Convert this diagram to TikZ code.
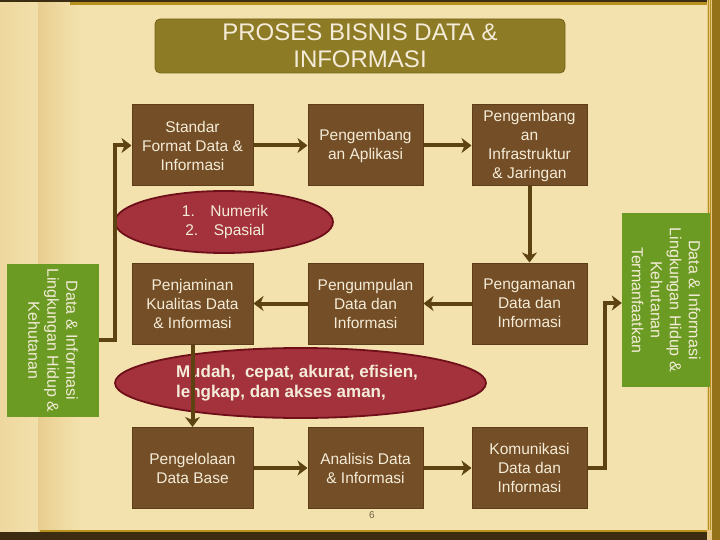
\documentclass[tikz,border=0pt]{standalone}
\usepackage{fontspec}
\setmainfont{Liberation Sans}
\usetikzlibrary{arrows.meta,shapes.geometric}
\definecolor{parch}{HTML}{F3E2AE}
\definecolor{parchdark}{HTML}{E6C888}
\definecolor{boxfill}{HTML}{744E26}
\definecolor{boxedge}{HTML}{5E3E1A}
\definecolor{boxtext}{HTML}{F4ECD8}
\definecolor{arrowc}{HTML}{5E4312}
\definecolor{titlefill}{HTML}{8E7B26}
\definecolor{titleedge}{HTML}{76651C}
\definecolor{grass}{HTML}{6B9B22}
\definecolor{ellfill}{HTML}{A3323D}
\definecolor{elledge}{HTML}{6E0F1A}
\definecolor{frame}{HTML}{3C2C12}
\definecolor{goldline}{HTML}{B8901C}
\begin{document}
\begin{tikzpicture}[x=1pt,y=-1pt,
  procbox/.style={draw=boxedge, line width=1pt, fill=boxfill, text=boxtext,
    minimum width=115pt, minimum height=81pt, inner sep=1pt, align=center,
    font=\fontsize{15.5}{19}\selectfont},
  greenbar/.style={fill=grass, inner sep=0pt},
  bartext/.style={text=boxtext, align=center, rotate=-90, font=\fontsize{16}{19}\selectfont},
  oval/.style={ellipse, draw=elledge, line width=1.8pt, fill=ellfill, inner sep=0pt},
  conn/.style={draw=arrowc, line width=4pt, -{Stealth[length=10pt,width=15pt,inset=3pt]}}
]
\useasboundingbox (0,0) rectangle (720,540);
% background page
\fill[parch] (0,0) rectangle (720,540);
\shade[left color=parchdark!40!parch, right color=parch!90!parchdark] (0,0) rectangle (38,540);
\shade[left color=parchdark!80!parch, right color=parch] (38,0) rectangle (80,540);
\fill[frame] (0,0) rectangle (720,2);
\fill[goldline] (70,2) rectangle (720,5);
\fill[frame] (0,532) rectangle (720,540);
\fill[goldline] (40,530) rectangle (720,532);
\fill[parchdark] (707,0) rectangle (712,540);
\draw[goldline, line width=0.6pt] (708.5,0) -- (708.5,530) (710.5,0) -- (710.5,530);
\fill[goldline!70!frame] (712,0) rectangle (720,540);

% title
\node[draw=titleedge, line width=0.8pt, fill=titlefill, rounded corners=5pt,
  minimum width=410pt, minimum height=54pt, inner sep=0pt, align=center,
  text=boxtext, font=\fontsize{24}{27}\selectfont] (title) at (360,46)
  {PROSES BISNIS DATA \&\\INFORMASI};

% process boxes
\node[procbox, minimum width=121pt] (b1) at (192.5,145.5) {Standar\\Format Data \&\\Informasi};
\node[procbox] (b2) at (365.5,145.5) {Pengembang\\an Aplikasi};
\node[procbox] (b3) at (529.5,145.5) {Pengembang\\an\\Infrastruktur\\\& Jaringan};
\node[procbox, minimum width=121pt] (m1) at (192.5,303.5) {Penjaminan\\Kualitas Data\\\& Informasi};
\node[procbox] (m2) at (365.5,303.5) {Pengumpulan\\Data dan\\Informasi};
\node[procbox] (m3) at (529.5,303.5) {Pengamanan\\Data dan\\Informasi};
\node[procbox, minimum width=121pt] (c1) at (192.5,468) {Pengelolaan\\Data Base};
\node[procbox] (c2) at (365.5,468) {Analisis Data\\\& Informasi};
\node[procbox] (c3) at (529.5,468) {Komunikasi\\Data dan\\Informasi};

% green side bars
\node[greenbar, minimum width=92pt, minimum height=153pt] (gl) at (53,340.5) {};
\node[bartext] (gltext) at (gl.center)
  {Data \& Informasi\\Lingkungan Hidup \&\\Kehutanan};
\node[greenbar, minimum width=88pt, minimum height=174pt] (gr) at (666,300) {};
\node[bartext] (grtext) at (gr.center)
  {Data \& Informasi\\Lingkungan Hidup \&\\Kehutanan\\Termanfaatkan};

% ovals
\node[oval, minimum width=218pt, minimum height=62pt] (e1) at (224,222) {};
\node[text=boxtext, align=center, font=\fontsize{15.5}{19}\selectfont] (e1text) at (225,222)
  {1.\quad Numerik\\2.\quad Spasial};
\node[oval, minimum width=371pt, minimum height=70pt] (e2) at (300.5,383) {};
\node[text=boxtext, align=left, font=\fontsize{17}{20.5}\selectfont\bfseries] (e2text) at (297,383)
  {Mudah,\ \ cepat, akurat, efisien,\\lengkap, dan akses aman,};

% page number
\node[text=black!50!parchdark, font=\fontsize{10}{12}\selectfont] (pg) at (372,515) {6};

% connectors
\coordinate (l1) at (115,340);
\coordinate (l2) at (115,145.5);
\coordinate (r1) at (605,468);
\coordinate (r2) at (605,303);
\draw[conn] (gl.east |- l1) -- (l1) -- (l2) -- (b1.west |- l2);
\draw[conn] (b1) -- (b2);
\draw[conn] (b2) -- (b3);
\draw[conn] (b3) -- (m3);
\draw[conn] (m3) -- (m2);
\draw[conn] (m2) -- (m1);
\draw[conn] (m1) -- (c1);
\draw[conn] (c1) -- (c2);
\draw[conn] (c2) -- (c3);
\draw[conn] (c3.east) -- (r1) -- (r2) -- (gr.west |- r2);
\end{tikzpicture}
\end{document}
